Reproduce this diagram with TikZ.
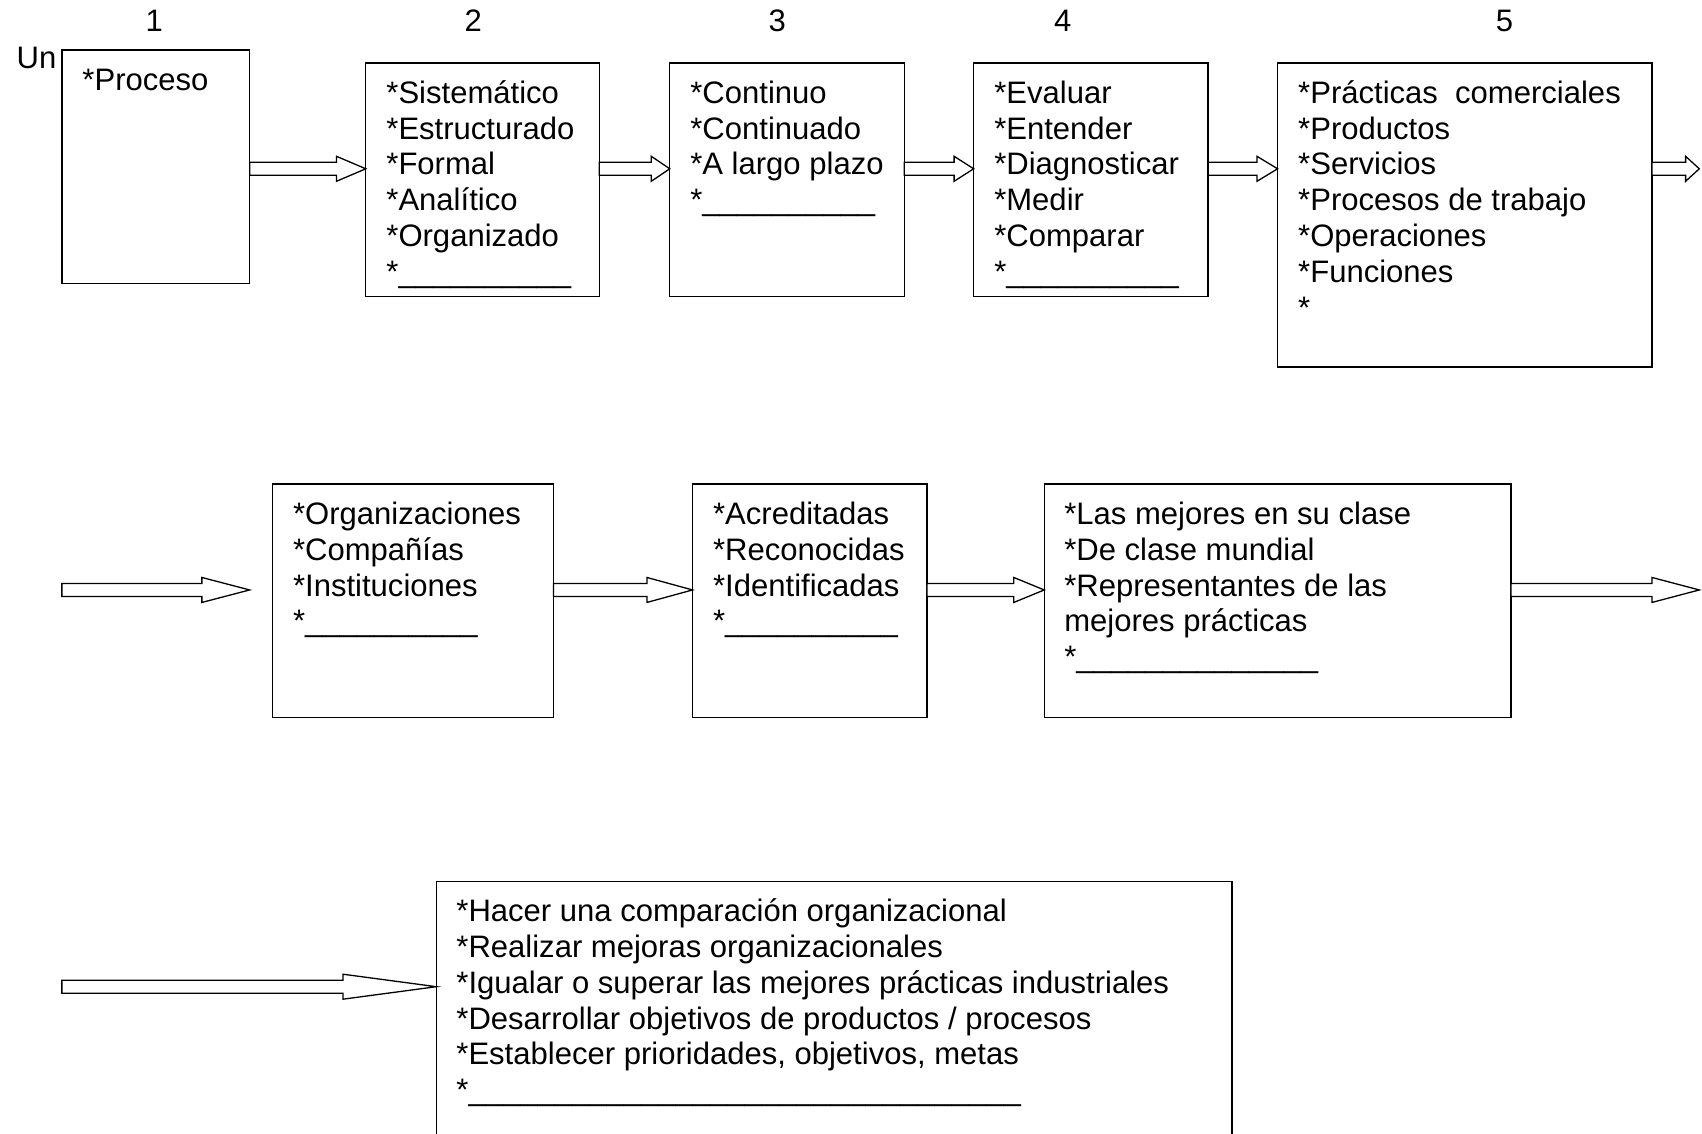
\documentclass[tikz,border=0pt]{standalone}
\usepackage{fontspec}
\setmainfont{Liberation Sans}
\usetikzlibrary{calc}
\def\uten{\_\_\_\_\_\_\_\_\_\_}
\newcommand\fatarrow[3]{%
  \draw[fatarr] let \p1=(#1), \p2=(#2) in
    (\x1,\y1+3pt) -- (\x2-#3,\y1+3pt) -- (\x2-#3,\y1+5.75pt) -- (\x2,\y1)
    -- (\x2-#3,\y1-5.75pt) -- (\x2-#3,\y1-3pt) -- (\x1,\y1-3pt) -- cycle;}
\begin{document}
\begin{tikzpicture}[x=0.5pt,y=-0.5pt,
  box/.style={draw=black,line width=0.6pt,fill=none,inner sep=0pt,outer sep=0pt,anchor=north west},
  txt/.style={anchor=north west,inner sep=0pt,outer sep=0pt,align=left,
    font=\fontsize{14.3pt}{16.5pt}\selectfont},
  lbl/.style={inner sep=0pt,outer sep=0pt,font=\fontsize{14.3pt}{16.5pt}\selectfont},
  fatarr/.style={draw=black,line width=0.6pt,fill=white,line join=miter}]
\useasboundingbox (0,0) rectangle (1568,1044);
\clip (0,0) rectangle (1568,1044);
% headings
\node[lbl,anchor=base] (n1) at (142,29) {1};
\node[lbl,anchor=base] (n2) at (436,29) {2};
\node[lbl,anchor=base] (n3) at (716,29) {3};
\node[lbl,anchor=base] (n4) at (979,29) {4};
\node[lbl,anchor=base] (n5) at (1386,29) {5};
\node[lbl,anchor=base west] (un) at (15.4,63) {Un};
% row 1 boxes
\node[box,minimum width=86.5pt,minimum height=107.5pt] (b1) at (57,46) {};
\node[box,minimum width=107.5pt,minimum height=107.5pt] (b2) at (337,58) {};
\node[box,minimum width=108pt,minimum height=107.5pt] (b3) at (617,58) {};
\node[box,minimum width=108pt,minimum height=107.5pt] (b4) at (897,58) {};
\node[box,minimum width=172.5pt,minimum height=140pt] (b5) at (1177,58) {};
% row 2 boxes
\node[box,minimum width=129.5pt,minimum height=107.5pt] (b6) at (251,446) {};
\node[box,minimum width=108pt,minimum height=107.5pt] (b7) at (638,446) {};
\node[box,minimum width=215pt,minimum height=107.5pt] (b8) at (962,446) {};
% row 3 box
\node[box,minimum width=366.5pt,minimum height=125pt] (b9) at (402,812) {};
% texts
\node[txt] (t1) at ($(b1.north west)+(19,14)$) {\strut*Proceso};
\node[txt] (t2) at ($(b2.north west)+(19,14)$) {\strut*Sistemático\\*Estructurado\\*Formal\\*Analítico\\*Organizado\\*\uten};
\node[txt] (t3) at ($(b3.north west)+(19,14)$) {\strut*Continuo\\*Continuado\\*A largo plazo\\*\uten};
\node[txt] (t4) at ($(b4.north west)+(19,14)$) {\strut*Evaluar\\*Entender\\*Diagnosticar\\*Medir\\*Comparar\\*\uten};
\node[txt] (t5) at ($(b5.north west)+(19,14)$) {\strut*Prácticas\ \ comerciales\\*Productos\\*Servicios\\*Procesos de trabajo\\*Operaciones\\*Funciones\\*};
\node[txt] (t6) at ($(b6.north west)+(19,14)$) {\strut*Organizaciones\\*Compañías\\*Instituciones\\*\uten};
\node[txt] (t7) at ($(b7.north west)+(19,14)$) {\strut*Acreditadas\\*Reconocidas\\*Identificadas\\*\uten};
\node[txt] (t8) at ($(b8.north west)+(18.5,14)$) {\strut*Las mejores en su clase\\*De clase mundial\\*Representantes de las\\mejores prácticas\\*\uten\_\_\_\_};
\node[txt] (t9) at ($(b9.north west)+(18.5,14)$) {\strut*Hacer una comparación organizacional\\*Realizar mejoras organizacionales\\*Igualar o superar las mejores prácticas industriales\\*Desarrollar objetivos de productos / procesos\\*Establecer prioridades, objetivos, metas\\*\uten\uten\uten\_\_};
% arrow rows
\coordinate (r1) at (0,155.5);
\coordinate (e5) at (1565.5,155.5);
\coordinate (s6) at (57,543.5);
\coordinate (e6) at (230,543.5);
\coordinate (r2) at (0,543.5);
\coordinate (e8) at (1565.5,543.5);
\coordinate (s9) at (57,909);
% arrows
\fatarrow{b1.east |- r1}{b2.west |- r1}{13.5pt}
\fatarrow{b2.east |- r1}{b3.west |- r1}{8.5pt}
\fatarrow{b3.east |- r1}{b4.west |- r1}{9pt}
\fatarrow{b4.east |- r1}{b5.west |- r1}{9.5pt}
\fatarrow{b5.east |- r1}{e5}{6.3pt}
\fatarrow{s6}{e6}{22pt}
\fatarrow{b6.east |- r2}{b7.west |- r2}{21pt}
\fatarrow{b7.east |- r2}{b8.west |- r2}{14pt}
\fatarrow{b8.east |- r2}{e8}{21.8pt}
\fatarrow{s9}{b9.west |- s9}{43pt}
\end{tikzpicture}
\end{document}
